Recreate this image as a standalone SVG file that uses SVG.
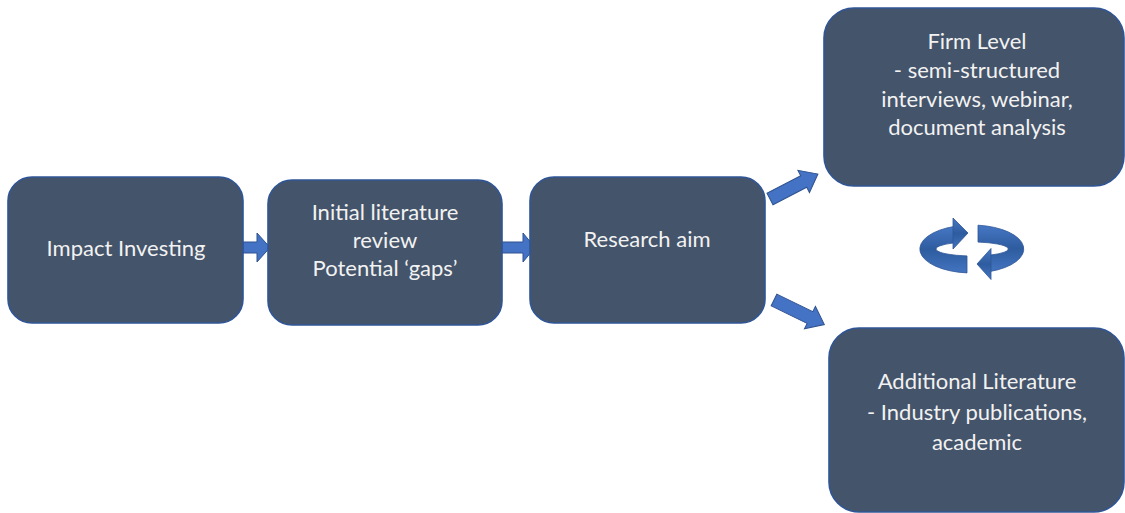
<svg xmlns="http://www.w3.org/2000/svg" width="1125" height="513" viewBox="0 0 1125 513">
<defs>
<linearGradient id="ringGrad" x1="0" y1="0" x2="0" y2="1">
<stop offset="0" stop-color="#4677C4"/>
<stop offset="0.5" stop-color="#2E5C9F"/>
<stop offset="1" stop-color="#4374C0"/>
</linearGradient>
</defs>
<style>
.box{fill:#44546A;stroke:#2F5597;stroke-width:1.6}
.lbl{font-family:Lato,"Open Sans","Liberation Sans",sans-serif;font-size:22px;fill:#F2F2F2;text-anchor:middle}
.arr{fill:#4472C4;stroke:#2F528F;stroke-width:1}
.ring{fill:url(#ringGrad);stroke:#2F5597;stroke-width:0.8}
</style>
<rect width="1125" height="513" fill="#FFFFFF"/>
<g id="connectors">
<polygon class="arr" points="243,242 257,242 257,233 270,247.5 257,262 257,253 243,253"/>
<polygon class="arr" points="502,242 523,242 523,233 535,247.5 523,262 523,253 502,253"/>
<polygon class="arr" transform="translate(770,199) rotate(-27.5)" points="0,-6.5 38,-6.5 38,-12.5 54,0 38,12.5 38,6.5 0,6.5"/>
<polygon class="arr" transform="translate(774,300) rotate(26)" points="0,-6.5 40,-6.5 40,-12.5 56,0 40,12.5 40,6.5 0,6.5"/>
<g id="cycle">
<path class="ring" d="M955 226.3 A52 24 0 0 0 967 272.9 L967 255.9 A36 7 0 0 1 955 242.8 Z"/>
<polygon class="ring" points="953,218 968,233 953,249"/>
<path class="ring" d="M978 225.2 A52 24 0 0 1 990 271.5 L990 255.1 A36 7 0 0 0 978 242.1 Z"/>
<polygon class="ring" points="991,248.5 977,264 991,279.5"/>
</g>
</g>
<g id="impact">
<rect class="box" x="8" y="177" width="235" height="146" rx="24"/>
<text class="lbl" x="126" y="256">Impact Investing</text>
</g>
<g id="initial">
<rect class="box" x="268" y="180" width="234" height="145" rx="24"/>
<text class="lbl" x="385" y="220">Initial literature</text>
<text class="lbl" x="385" y="248">review</text>
<text class="lbl" x="385" y="276">Potential ‘gaps’</text>
</g>
<g id="research">
<rect class="box" x="530" y="177" width="235" height="146" rx="24"/>
<text class="lbl" x="647" y="247">Research aim</text>
</g>
<g id="firm">
<rect class="box" x="824" y="8" width="300" height="178" rx="30"/>
<text class="lbl" x="977" y="49">Firm Level</text>
<text class="lbl" x="977" y="78">- semi-structured</text>
<text class="lbl" x="977" y="107">interviews, webinar,</text>
<text class="lbl" x="977" y="135">document analysis</text>
</g>
<g id="additional">
<rect class="box" x="829" y="328" width="295" height="184" rx="30"/>
<text class="lbl" x="977" y="389">Additional Literature</text>
<text class="lbl" x="977" y="420">- Industry publications,</text>
<text class="lbl" x="977" y="450">academic</text>
</g>
</svg>
